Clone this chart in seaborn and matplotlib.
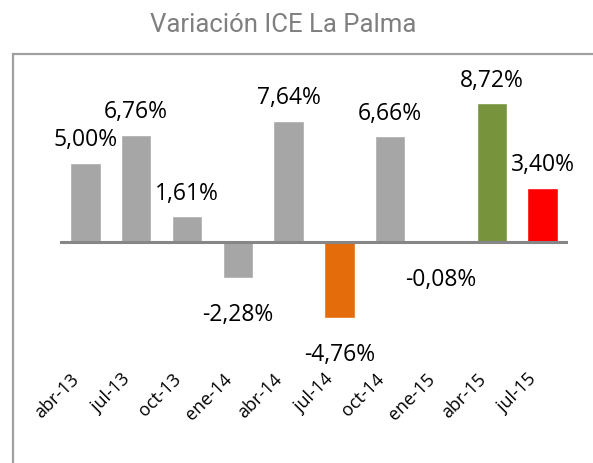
import seaborn as sns
import matplotlib.pyplot as plt
from matplotlib.patches import Rectangle
from matplotlib.transforms import offset_copy

# data
periodos = ["abr-13", "jul-13", "oct-13", "ene-14", "abr-14",
            "jul-14", "oct-14", "ene-15", "abr-15", "jul-15"]
variacion = [5.00, 6.76, 1.61, -2.28, 7.64, -4.76, 6.66, -0.08, 8.72, 3.40]
etiquetas = ["5,00%", "6,76%", "1,61%", "-2,28%", "7,64%",
             "-4,76%", "6,66%", "-0,08%", "8,72%", "3,40%"]
colores = ["#a6a6a6", "#a6a6a6", "#a6a6a6", "#a6a6a6", "#a6a6a6",
           "#e46c0a", "#a6a6a6", "#a6a6a6", "#77933c", "#ff0000"]

sns.set_theme(style="white")
plt.rcParams["font.family"] = "Open Sans"

fig = plt.figure(figsize=(5.93, 4.64), dpi=100)
ax = fig.add_axes([60 / 593, 1 - 365 / 464, 508 / 593, 305 / 464])

sns.barplot(x=periodos, y=variacion, hue=periodos, palette=colores,
            legend=False, width=0.6, saturation=1, ax=ax)

ax.set_ylim(-7.67, 11.51)
ax.set_xlim(-0.5, 9.5)
ax.axhline(0, color="#868686", lw=2.2, zorder=3)

# value labels
for i, v in enumerate(variacion):
    off = 17 if v >= 0 else -26
    ax.annotate(etiquetas[i], (i, v), xytext=(0, off), textcoords="offset points",
                ha="center", va="center", fontsize=16.5, color="black")

ax.set_yticks([])
ax.set_xlabel("")
ax.set_ylabel("")
for s in ax.spines.values():
    s.set_visible(False)
ax.tick_params(axis="x", length=0, pad=4)
ax.set_xticks(range(len(periodos)))
ax.set_xticklabels(periodos, rotation=45, ha="right", va="top",
                   rotation_mode="anchor", fontsize=13, color="black")
for lab in ax.get_xticklabels():
    lab.set_transform(offset_copy(lab.get_transform(), fig=fig, x=-11, y=0, units="points"))

# title and outer frame
fig.text(283 / 593, 1 - 25 / 464, "Variación ICE La Palma", ha="center", va="center",
         fontsize=18.5, color="#7f7f7f", family="Roboto")
fig.add_artist(Rectangle((12.5 / 593, -0.1), 1.1, 1.1 - 54.5 / 464, transform=fig.transFigure,
                         fill=False, edgecolor="#a0a0a0", lw=1.6))

fig.savefig("out.png", dpi=100)
